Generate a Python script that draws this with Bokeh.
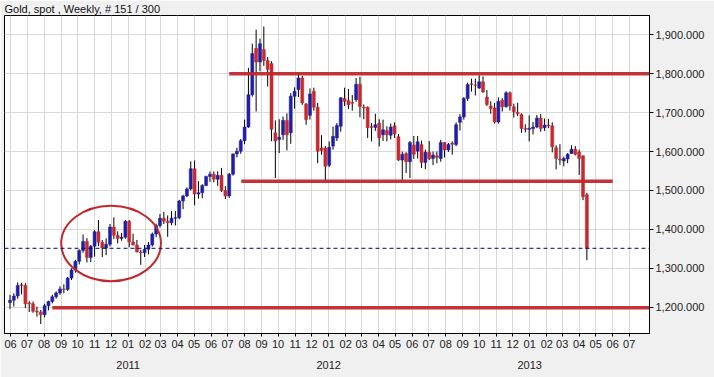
import pandas as pd
from bokeh.plotting import figure
from bokeh.models import (Range1d, DatetimeAxis, FixedTicker, DatetimeTickFormatter,
                          Label, NumeralTickFormatter, Span)
from bokeh.embed import file_html
from bokeh.resources import INLINE

# ---------------- data (weekly gold spot) ----------------
first_week = "2010-05-31"
opens = [1212, 1218, 1229, 1258, 1256, 1211, 1209, 1190, 1188, 1181,
         1204, 1215, 1227, 1237, 1247, 1246, 1275, 1296, 1318, 1346,
         1369, 1328, 1357, 1394, 1367, 1352, 1362, 1406, 1385, 1377,
         1380, 1421, 1368, 1360, 1342, 1340, 1349, 1360, 1388, 1410,
         1429, 1421, 1417, 1429, 1430, 1473, 1486, 1504, 1556, 1491,
         1494, 1513, 1536, 1542, 1529, 1539, 1500, 1486, 1542, 1594,
         1601, 1628, 1663, 1746, 1865, 1830, 1862, 1834, 1826, 1648,
         1631, 1643, 1680, 1648, 1742, 1759, 1789, 1722, 1693, 1755,
         1714, 1609, 1609, 1565, 1614, 1635, 1665, 1736, 1731, 1726,
         1733, 1773, 1714, 1714, 1664, 1662, 1673, 1643, 1654, 1642,
         1666, 1638, 1578, 1595, 1574, 1617, 1601, 1618, 1572, 1598,
         1582, 1589, 1582, 1623, 1604, 1622, 1618, 1675, 1689, 1736,
         1774, 1771, 1763, 1779, 1740, 1717, 1712, 1676, 1732, 1715,
         1751, 1715, 1701, 1695, 1659, 1657, 1659, 1663, 1686, 1661,
         1668, 1666, 1610, 1581, 1576, 1581, 1595, 1606, 1599, 1589,
         1489]
highs = [1232, 1236, 1264, 1263, 1262, 1216, 1215, 1202, 1193, 1209,
         1217, 1232, 1241, 1254, 1259, 1278, 1300, 1322, 1349, 1387,
         1378, 1360, 1398, 1424, 1373, 1377, 1414, 1431, 1395, 1391,
         1424, 1424, 1389, 1373, 1348, 1360, 1368, 1392, 1415, 1440,
         1445, 1436, 1447, 1447, 1476, 1489, 1508, 1575, 1577, 1524,
         1516, 1538, 1549, 1549, 1549, 1558, 1511, 1545, 1595, 1610,
         1632, 1682, 1815, 1877, 1913, 1890, 1921, 1843, 1832, 1680,
         1683, 1690, 1698, 1750, 1765, 1803, 1794, 1725, 1762, 1764,
         1725, 1642, 1614, 1626, 1664, 1673, 1739, 1764, 1761, 1745,
         1789, 1792, 1721, 1716, 1673, 1697, 1683, 1682, 1665, 1672,
         1675, 1645, 1600, 1598, 1627, 1640, 1640, 1628, 1605, 1627,
         1600, 1600, 1630, 1624, 1622, 1626, 1675, 1696, 1740, 1777,
         1787, 1787, 1796, 1793, 1758, 1729, 1725, 1739, 1737, 1755,
         1754, 1723, 1725, 1698, 1670, 1693, 1676, 1694, 1696, 1685,
         1684, 1675, 1616, 1619, 1587, 1596, 1616, 1614, 1605, 1590,
         1494]
lows = [1196, 1202, 1222, 1233, 1198, 1188, 1186, 1176, 1157, 1174,
        1192, 1210, 1222, 1232, 1236, 1242, 1270, 1289, 1310, 1340,
        1315, 1316, 1330, 1357, 1329, 1334, 1356, 1375, 1364, 1371,
        1376, 1354, 1359, 1341, 1309, 1329, 1336, 1356, 1380, 1405,
        1414, 1381, 1411, 1410, 1426, 1452, 1483, 1500, 1462, 1479,
        1480, 1511, 1522, 1521, 1512, 1496, 1478, 1481, 1538, 1585,
        1594, 1619, 1661, 1741, 1703, 1806, 1820, 1767, 1627, 1532,
        1596, 1630, 1603, 1620, 1710, 1740, 1720, 1669, 1682, 1705,
        1570, 1592, 1523, 1560, 1605, 1627, 1651, 1717, 1709, 1705,
        1728, 1688, 1683, 1635, 1626, 1653, 1613, 1627, 1626, 1631,
        1635, 1576, 1527, 1545, 1532, 1581, 1582, 1558, 1555, 1578,
        1565, 1570, 1574, 1585, 1599, 1592, 1614, 1654, 1682, 1730,
        1754, 1744, 1761, 1751, 1717, 1697, 1672, 1672, 1703, 1713,
        1705, 1687, 1691, 1648, 1649, 1626, 1644, 1660, 1651, 1653,
        1660, 1598, 1554, 1566, 1562, 1570, 1594, 1590, 1540, 1475,
        1321]
closes = [1218, 1229, 1256, 1256, 1209, 1209, 1190, 1188, 1181, 1204,
          1215, 1227, 1237, 1247, 1246, 1275, 1296, 1318, 1346, 1369,
          1328, 1357, 1394, 1367, 1352, 1362, 1406, 1385, 1377, 1380,
          1421, 1368, 1360, 1342, 1340, 1349, 1360, 1388, 1410, 1429,
          1421, 1417, 1429, 1430, 1473, 1486, 1504, 1556, 1491, 1494,
          1513, 1536, 1542, 1529, 1539, 1500, 1486, 1542, 1594, 1601,
          1628, 1663, 1746, 1852, 1830, 1877, 1834, 1811, 1657, 1627,
          1637, 1680, 1643, 1742, 1755, 1789, 1725, 1682, 1748, 1714,
          1601, 1603, 1562, 1611, 1639, 1667, 1738, 1729, 1720, 1724,
          1773, 1716, 1712, 1661, 1662, 1669, 1635, 1656, 1643, 1663,
          1645, 1578, 1593, 1574, 1623, 1593, 1625, 1572, 1598, 1582,
          1591, 1585, 1623, 1604, 1618, 1619, 1669, 1689, 1736, 1772,
          1772, 1770, 1779, 1753, 1721, 1710, 1676, 1729, 1715, 1751,
          1717, 1702, 1697, 1659, 1657, 1660, 1663, 1686, 1659, 1668,
          1666, 1612, 1582, 1578, 1582, 1593, 1606, 1593, 1582, 1484,
          1351.533]

last_price = 1351.533
price_ticks = [1200, 1300, 1400, 1500, 1600, 1700, 1800, 1900]
month_ticks = pd.date_range("2010-06-01", "2013-07-01", freq="MS")
year_ticks = pd.to_datetime(["2011-01-01", "2012-01-01", "2013-01-01"])

# support / resistance lines drawn on the chart: (level, start, end)
levels = [1800, 1524, 1199]
level_start = pd.to_datetime(["2011-07-04", "2011-07-26", "2010-08-16"])
level_end = pd.to_datetime(["2013-08-10", "2013-06-01", "2013-08-10"])

# ---------------- figure ----------------
dates = pd.date_range(first_week, periods=len(closes), freq="7D")
df = pd.DataFrame(dict(d=dates, o=opens, h=highs, l=lows, c=closes))
up = df[df.c >= df.o]
dn = df[df.c < df.o]

BLUE = "#1e1ea6"
RED = "#c62a2e"
LINE_RED = "#c0282c"
FONT = "Liberation Sans"

x0 = pd.Timestamp("2010-05-21")
x1 = pd.Timestamp("2013-08-07")
p = figure(width=714, height=377, x_axis_type="datetime", y_axis_location="right",
           x_range=Range1d(x0, x1), y_range=Range1d(1132.7, 1949.4),
           output_backend="svg", toolbar_location=None,
           min_border_left=4, min_border_right=65, min_border_top=14, min_border_bottom=44)

p.background_fill_color = "white"
p.border_fill_color = "#f0f0f0"
p.outline_line_color = "black"
p.outline_line_width = 1

p.title.text = "Gold, spot , Weekly, # 151 / 300"
p.title.text_font = FONT
p.title.text_font_size = "11px"
p.title.text_font_style = "normal"
p.title.text_color = "#111111"
p.title.align = "left"
p.title.standoff = 1

ms = lambda idx: [int(t.value // 10**6) for t in idx]

# x axis (months)
xa = p.xaxis[0]
xa.ticker = FixedTicker(ticks=ms(month_ticks))
xa.formatter = DatetimeTickFormatter(days="%m", months="%m", years="%m", hours="%m",
                                     minutes="%m", seconds="%m", milliseconds="%m")
xa.major_tick_out = 3
xa.major_tick_in = 0
xa.minor_tick_line_color = None
xa.axis_line_color = "black"
xa.major_label_text_font = FONT
xa.major_label_text_font_size = "11px"
xa.major_label_text_color = "#222222"
xa.major_label_standoff = 3

# year axis
ya2 = DatetimeAxis(ticker=FixedTicker(ticks=ms(year_ticks)),
                   formatter=DatetimeTickFormatter(days="%Y", months="%Y", years="%Y"))
ya2.major_tick_line_color = None
ya2.minor_tick_line_color = None
ya2.axis_line_color = None
ya2.major_label_text_font = FONT
ya2.major_label_text_font_size = "11px"
ya2.major_label_text_color = "#222222"
ya2.major_label_standoff = 4
p.add_layout(ya2, "below")

# y axis (right)
yax = p.yaxis[0]
yax.ticker = FixedTicker(ticks=price_ticks)
yax.formatter = NumeralTickFormatter(format="0,0.000")
yax.major_tick_out = 4
yax.major_tick_in = 0
yax.minor_tick_line_color = None
yax.axis_line_color = "black"
yax.major_label_text_font = FONT
yax.major_label_text_font_size = "11px"
yax.major_label_text_color = "#222222"
yax.major_label_standoff = 2

p.xgrid.ticker = FixedTicker(ticks=ms(month_ticks))
p.ygrid.ticker = FixedTicker(ticks=price_ticks)
p.xgrid.grid_line_color = "#d9d9d9"
p.ygrid.grid_line_color = "#d9d9d9"

# candles
body_w = 5.5 * 24 * 3600 * 1000
p.segment(x0="d", y0="l", x1="d", y1="h", source=df, line_color="black", line_width=1)
p.vbar(x="d", width=body_w, top="c", bottom="o", source=up,
       fill_color=BLUE, line_color=BLUE, line_width=0.5)
p.vbar(x="d", width=body_w, top="o", bottom="c", source=dn,
       fill_color=RED, line_color=RED, line_width=0.5)

# current price dashed line
p.add_layout(Span(location=last_price, dimension="width", line_color="#000080",
                  line_dash="4 3", line_width=1))

# support / resistance lines
p.segment(x0=level_start, y0=levels, x1=level_end, y1=levels,
          line_color=LINE_RED, line_width=3.5, line_alpha=0.95)

# circle around the 2010-2011 consolidation
p.ellipse(x=[pd.Timestamp("2010-12-01")], y=[1364],
          width=181.5 * 24 * 3600 * 1000, height=194,
          fill_color=None, line_color=LINE_RED, line_width=2)

# price box on the axis
p.add_layout(Label(x=x1.value // 10**6, y=last_price, x_offset=4, text="1,351.533",
                   text_baseline="middle", text_align="left",
                   text_font=FONT, text_font_size="11px", text_color="#000080",
                   background_fill_color="white", border_line_color=LINE_RED,
                   border_line_width=1, padding=1))

open("out.html", "w").write(file_html(p, INLINE))
